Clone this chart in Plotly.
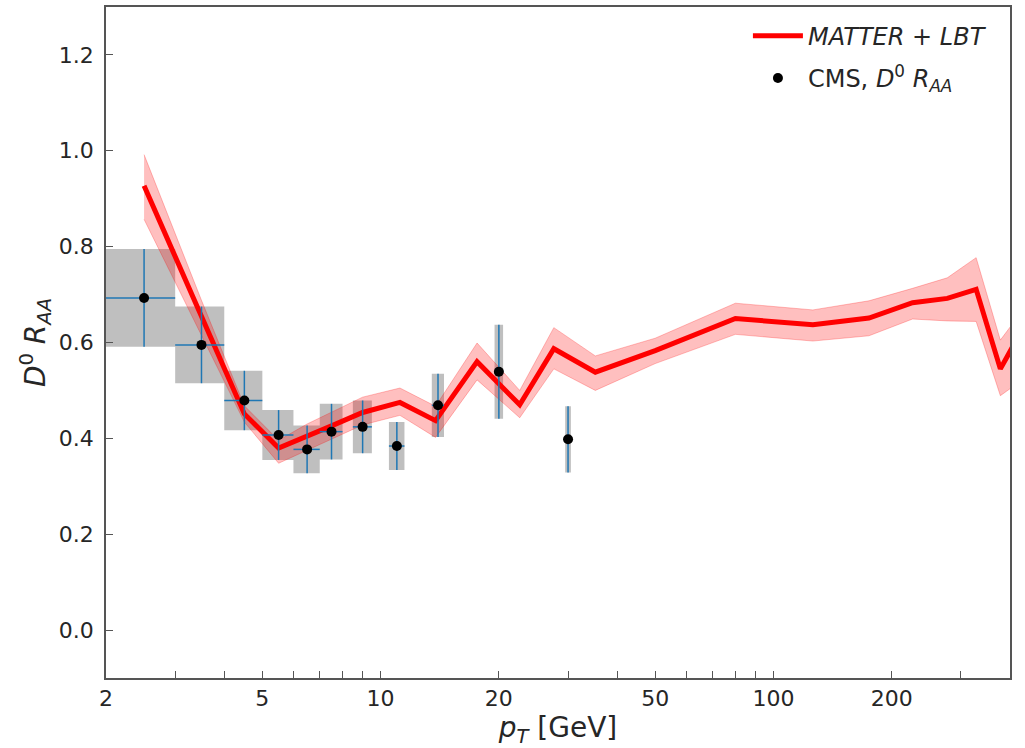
import plotly.graph_objects as go

# CMS D0 R_AA data
cms_pt = [2.5, 3.5, 4.5, 5.5, 6.5, 7.5, 9.0, 11.0, 14.0, 20.0, 30.0]
cms_raa = [0.693, 0.595, 0.479, 0.407, 0.377, 0.414, 0.424, 0.384, 0.469, 0.539, 0.398]
cms_err = [0.102, 0.080, 0.062, 0.052, 0.050, 0.058, 0.055, 0.050, 0.066, 0.098, 0.069]
cms_xerr = [0.5, 0.5, 0.5, 0.5, 0.5, 0.5, 0.5, 0.5, 0.5, 0.5, 0.5]

# MATTER + LBT model
model_pt = [2.5, 3.5, 4.5, 5.5, 6.5, 7.5, 9.0, 11.2, 13.8, 17.6, 22.6, 27.6, 35.2,
            50, 80, 126, 175, 226, 277, 328, 378, 425]
model_raa = [0.927, 0.652, 0.451, 0.380, 0.404, 0.426, 0.454, 0.475, 0.437, 0.560, 0.470,
             0.587, 0.538, 0.583, 0.650, 0.637, 0.651, 0.683, 0.692, 0.711, 0.545, 0.620]
model_lo = [0.857, 0.615, 0.434, 0.348, 0.375, 0.398, 0.428, 0.448, 0.402, 0.522, 0.443,
            0.545, 0.500, 0.556, 0.617, 0.603, 0.614, 0.649, 0.645, 0.644, 0.489, 0.519]
model_hi = [0.992, 0.688, 0.468, 0.396, 0.430, 0.455, 0.486, 0.505, 0.467, 0.599, 0.500,
            0.631, 0.572, 0.609, 0.682, 0.668, 0.687, 0.713, 0.735, 0.777, 0.605, 0.661]

x_tickvals = [2, 3, 4, 5, 6, 7, 8, 9, 10, 20, 30, 40, 50, 60, 70, 80, 90, 100, 200, 300]
x_ticktext = ["2", "", "", "5", "", "", "", "", "10", "20", "", "", "50", "", "", "", "", "100", "200", ""]
y_tickvals = [0.0, 0.2, 0.4, 0.6, 0.8, 1.0, 1.2]

FONT = "DejaVu Sans"
TXT = "#262626"
AX = "#555555"

fig = go.Figure()

# systematic boxes
bx, by = [], []
for p, v, e, w in zip(cms_pt, cms_raa, cms_err, cms_xerr):
    bx += [p - w, p + w, p + w, p - w, p - w, None]
    by += [v - e, v - e, v + e, v + e, v - e, None]
fig.add_trace(go.Scatter(x=bx, y=by, mode="lines", fill="toself",
                         fillcolor="rgba(128,128,128,0.5)", line=dict(width=0),
                         showlegend=False, hoverinfo="skip"))

# model band
fig.add_trace(go.Scatter(x=model_pt + model_pt[::-1], y=model_hi + model_lo[::-1],
                         mode="lines", fill="toself", fillcolor="rgba(255,0,0,0.25)",
                         line=dict(color="rgba(255,0,0,0.25)", width=1),
                         showlegend=False, hoverinfo="skip"))

# model line
fig.add_trace(go.Scatter(x=model_pt, y=model_raa, mode="lines",
                         line=dict(color="red", width=5),
                         name="<i>MATTER</i> + <i>LBT</i>", legendgroup="a"))

# data points
fig.add_trace(go.Scatter(x=cms_pt, y=cms_raa, mode="markers",
                         marker=dict(color="black", size=10),
                         error_y=dict(type="data", array=cms_err, color="#1f77b4", thickness=1.5, width=0),
                         error_x=dict(type="data", array=cms_xerr, color="#1f77b4", thickness=1.5, width=0),
                         name="CMS, <i>D</i><sup>0</sup> <i>R</i><sub><i>AA</i></sub>", legendgroup="b"))

fig.update_layout(
    width=1025, height=748,
    margin=dict(l=106, r=15, t=5, b=70),
    paper_bgcolor="white", plot_bgcolor="white",
    font=dict(family=FONT, size=22, color=TXT),
    legend=dict(x=0.98, y=0.99, xanchor="right", yanchor="top",
                bgcolor="rgba(0,0,0,0)", font=dict(size=24, color=TXT),
                tracegroupgap=8, itemwidth=50),
    xaxis=dict(type="log", range=[0.30103, 2.60206],
               tickvals=x_tickvals, ticktext=x_ticktext,
               ticks="inside", ticklen=7, tickwidth=1.2, tickcolor=AX,
               showline=True, linecolor=AX, linewidth=1.5, mirror=True,
               showgrid=False, zeroline=False,
               tickfont=dict(size=22, color=TXT),
               title=dict(text="<i>p</i><sub><i>T</i></sub> [GeV]", font=dict(size=28, color=TXT), standoff=6)),
    yaxis=dict(range=[-0.1, 1.3], tickvals=y_tickvals, tickformat=".1f",
               ticks="inside", ticklen=7, tickwidth=1.2, tickcolor=AX,
               showline=True, linecolor=AX, linewidth=1.5, mirror=True,
               showgrid=False, zeroline=False, ticklabelstandoff=6,
               tickfont=dict(size=22, color=TXT),
               title=dict(text="<i>D</i><sup>0</sup> <i>R</i><sub><i>AA</i></sub>", font=dict(size=28, color=TXT), standoff=5)),
)

fig.write_html("out.html")
